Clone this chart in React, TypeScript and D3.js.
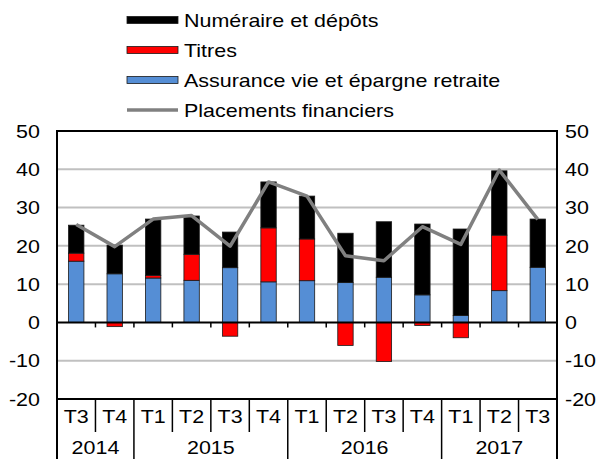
import { scaleBand, scaleLinear, stack, stackOffsetDiverging, line } from 'd3';

// données (en milliards)
const quarters = ['T3', 'T4', 'T1', 'T2', 'T3', 'T4', 'T1', 'T2', 'T3', 'T4', 'T1', 'T2', 'T3'];
const years = ['2014', '2015', '2016', '2017'];
const yearSpans = [2, 4, 4, 3];
const assurance = [16.0, 12.7, 11.6, 11.0, 14.3, 10.6, 10.9, 10.4, 11.8, 7.2, 1.8, 8.3, 14.4];
const titres = [2.1, -1.1, 0.7, 6.8, -3.6, 14.1, 10.9, -6.0, -10.2, -0.8, -4.0, 14.5, 0];
const numeraire = [7.3, 7.5, 14.7, 10.0, 9.3, 12.0, 11.2, 12.9, 14.5, 18.5, 22.6, 16.8, 12.6];
const placements = [25.6, 19.8, 27.0, 27.9, 19.9, 36.7, 33.0, 17.4, 16.1, 25.0, 20.4, 39.8, 26.9];
const yTicks = [-20, -10, 0, 10, 20, 30, 40, 50];

const FONT = '"Liberation Sans", Arial, sans-serif';
const colors = { assurance: '#558ED5', titres: '#FF0000', numeraire: '#000000' };

// texte légèrement étiré en largeur, comme sur l'original
function T({ x, y, anchor = 'start', children }: any) {
    return (
        <text transform={`translate(${x},${y}) scale(1.13,1)`} dy='0.35em' textAnchor={anchor} fontSize={19}>
            {children}
        </text>
    );
}

export default function App() {
    const left = 57, right = 557, top = 131, bottom = 399;
    const rowQ = 432, rowY = 459;

    const idx = quarters.map((_, i) => i);
    const slot = scaleBand<number>().domain(idx).range([left, right]).padding(0);
    const x = scaleBand<number>().domain(idx).range([left, right]).paddingInner(0.6).paddingOuter(0.3);
    const y = scaleLinear().domain([-20, 50]).range([bottom, top]);

    const rows = idx.map(i => ({ i, assurance: assurance[i], titres: titres[i], numeraire: numeraire[i] }));
    const keys = ['assurance', 'titres', 'numeraire'];
    const series = stack<any>().keys(keys).offset(stackOffsetDiverging)(rows);

    const path = line<number>()
        .x((_, i) => x(i)! + x.bandwidth() / 2)
        .y(d => y(d))(placements);

    const step = slot.step();
    let acc = 0;
    const yearPos = yearSpans.map(n => {
        const start = acc;
        acc += n;
        return { start, end: acc };
    });

    const legend = [
        { label: 'Numéraire et dépôts', color: colors.numeraire, kind: 'bar' },
        { label: 'Titres', color: colors.titres, kind: 'bar' },
        { label: 'Assurance vie et épargne retraite', color: colors.assurance, kind: 'bar' },
        { label: 'Placements financiers', color: '#808080', kind: 'line' },
    ];

    return (
        <svg width={606} height={459} style={{ position: 'absolute', left: 0, top: 0, background: '#fff' }}
            fontFamily={FONT}>
            {/* grille */}
            {yTicks.filter(t => t !== 0 && t !== -20 && t !== 50).map(t => (
                <line key={t} x1={left} x2={right} y1={y(t)} y2={y(t)} stroke='#C0C0C0' strokeWidth={2} />
            ))}

            {/* barres */}
            {series.map(s => (
                <g key={s.key} fill={(colors as any)[s.key]}>
                    {s.map((d, i) => (
                        Math.abs(d[1] - d[0]) > 0.01 && (
                            <rect key={i} x={x(i)} width={x.bandwidth()}
                                y={y(Math.max(d[0], d[1]))}
                                height={Math.abs(y(d[0]) - y(d[1]))}
                                stroke='#1a1a1a' strokeWidth={0.8} />
                        )
                    ))}
                </g>
            ))}

            {/* ligne zéro et graduations */}
            <line x1={left} x2={right} y1={y(0)} y2={y(0)} stroke='#000' strokeWidth={2} />
            {idx.slice(1).map(i => (
                <line key={i} x1={slot(i)} x2={slot(i)} y1={y(0)} y2={y(0) + 5} stroke='#000' strokeWidth={1.5} />
            ))}

            <path d={path!} fill='none' stroke='#808080' strokeWidth={3.5} strokeLinejoin='round' />

            {/* cadre */}
            <rect x={left} y={top} width={right - left} height={bottom - top} fill='none' stroke='#000' strokeWidth={2} />

            {/* axe des catégories */}
            {idx.slice(1).map(i => {
                const isYear = yearPos.some(p => p.start === i);
                return (
                    <line key={i} x1={slot(i)} x2={slot(i)} y1={bottom} y2={isYear ? rowY : rowQ}
                        stroke='#000' strokeWidth={1.5} />
                );
            })}
            <line x1={left} x2={left} y1={bottom} y2={rowY} stroke='#000' strokeWidth={2} />
            <line x1={right} x2={right} y1={bottom} y2={rowY} stroke='#000' strokeWidth={2} />
            {quarters.map((q, i) => (
                <T key={i} x={slot(i)! + step / 2} y={416} anchor='middle'>{q}</T>
            ))}
            {years.map((yr, k) => (
                <T key={yr} x={left + (yearPos[k].start + yearPos[k].end) / 2 * step} y={447} anchor='middle'>{yr}</T>
            ))}

            {/* axes verticaux */}
            {yTicks.map(t => (
                <g key={t}>
                    <T x={40} y={y(t)} anchor='end'>{t}</T>
                    <T x={565} y={y(t)}>{t}</T>
                </g>
            ))}

            {/* légende */}
            {legend.map((l, k) => {
                const cy = 20 + k * 30;
                return (
                    <g key={l.label}>
                        {l.kind === 'bar'
                            ? <rect x={127} y={cy - 3.5} width={51} height={7} fill={l.color} stroke='#1a1a1a' strokeWidth={0.8} />
                            : <line x1={127} x2={178} y1={cy} y2={cy} stroke={l.color} strokeWidth={3.5} />}
                        <T x={184} y={cy}>{l.label}</T>
                    </g>
                );
            })}
        </svg>
    );
}
